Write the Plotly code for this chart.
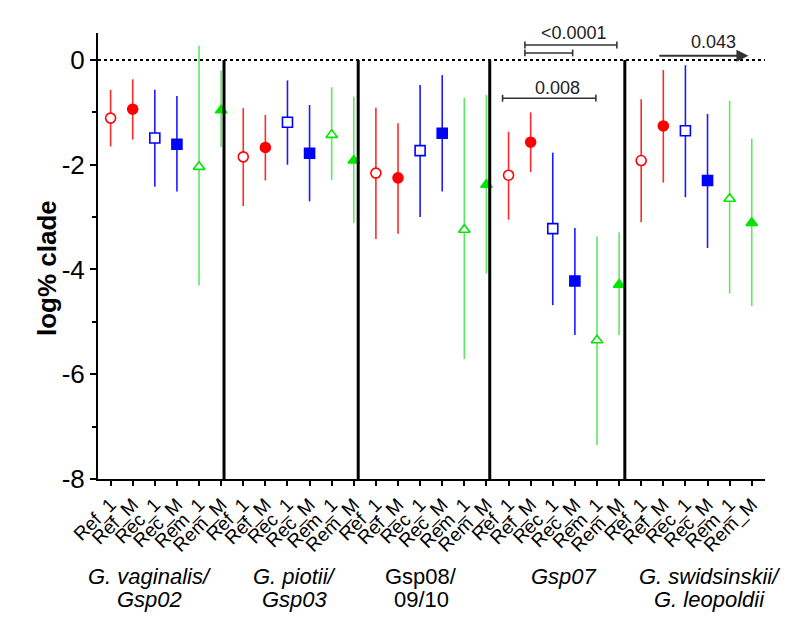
import plotly.graph_objects as go

# ---------------- data ----------------
group_line1 = ["<i>G. vaginalis/</i>", "<i>G. piotii/</i>", "Gsp08/", "<i>Gsp07</i>", "<i>G. swidsinskii/</i>"]
group_line2 = ["<i>Gsp02</i>", "<i>Gsp03</i>", "09/10", "", "<i>G. leopoldii</i>"]
conditions = ["Ref_1", "Ref_M", "Rec_1", "Rec_M", "Rem_1", "Rem_M"]

ref1_mean = [-1.11, -1.85, -2.16, -2.20, -1.92]
ref1_hi = [-0.57, -0.92, -0.91, -1.37, -0.75]
ref1_lo = [-1.65, -2.79, -3.42, -3.05, -3.10]
refM_mean = [-0.94, -1.67, -2.25, -1.57, -1.26]
refM_hi = [-0.37, -1.05, -1.21, -1.00, -0.19]
refM_lo = [-1.52, -2.30, -3.32, -2.14, -2.34]
rec1_mean = [-1.49, -1.19, -1.73, -3.22, -1.35]
rec1_hi = [-0.57, -0.39, -0.48, -1.77, -0.10]
rec1_lo = [-2.42, -2.00, -3.00, -4.68, -2.62]
recM_mean = [-1.61, -1.78, -1.40, -4.22, -2.30]
recM_hi = [-0.69, -0.86, -0.29, -3.21, -1.03]
recM_lo = [-2.51, -2.70, -2.51, -5.25, -3.59]
rem1_mean = [-2.04, -1.43, -3.24, -5.35, -2.65]
rem1_hi = [0.27, -0.52, -0.72, -3.37, -0.78]
rem1_lo = [-4.30, -2.29, -5.71, -7.35, -4.46]
remM_mean = [-0.96, -1.92, -2.38, -4.29, -3.11]
remM_hi = [-0.20, -0.70, -0.67, -3.29, -1.50]
remM_lo = [-1.66, -3.11, -4.08, -5.25, -4.70]

y_ticks = [0, -2, -4, -6, -8]
y_minor = [-1, -3, -5, -7]
separators = [5.13, 11.2, 17.15, 23.26]

# p-value brackets: (x_start, x_end, y)
brackets = [
    (17.73, 21.95, -0.73),
    (18.74, 22.9, 0.286),
    (18.74, 20.9, 0.134),
]
p_labels = ["0.008", "&lt;0.0001", "0.043"]

# --------------- styles ---------------
RED, BLUE = "#ff0000", "#0000ff"
GREEN_M, GREEN_L = "#00e600", "#5ee85e"
styles = [
    dict(symbol="circle", fill="white", col=RED, bar="#ff2a2a", size=10),
    dict(symbol="circle", fill=RED, col=RED, bar="#ff2a2a", size=10),
    dict(symbol="square", fill="white", col=BLUE, bar="#1a1aff", size=10),
    dict(symbol="square", fill=BLUE, col=BLUE, bar="#1a1aff", size=10),
    dict(symbol="triangle-up", fill="white", col=GREEN_M, bar=GREEN_L, size=10),
    dict(symbol="triangle-up", fill=GREEN_M, col=GREEN_M, bar=GREEN_L, size=10),
]
series = [
    (ref1_mean, ref1_hi, ref1_lo),
    (refM_mean, refM_hi, refM_lo),
    (rec1_mean, rec1_hi, rec1_lo),
    (recM_mean, recM_hi, recM_lo),
    (rem1_mean, rem1_hi, rem1_lo),
    (remM_mean, remM_hi, remM_lo),
]

n_cond = len(conditions)
n_grp = len(group_line1)
FONT = "Arial, Liberation Sans, sans-serif"

fig = go.Figure()
for ci, ((mean, hi, lo), st) in enumerate(zip(series, styles)):
    xs = [g * n_cond + ci for g in range(n_grp)]
    fig.add_trace(go.Scatter(
        x=xs, y=mean, mode="markers",
        marker=dict(symbol=st["symbol"], size=st["size"], color=st["fill"],
                    line=dict(color=st["col"], width=1.6)),
        error_y=dict(type="data", symmetric=False,
                     array=[h - m for h, m in zip(hi, mean)],
                     arrayminus=[m - l for m, l in zip(mean, lo)],
                     color=st["bar"], thickness=1.6, width=0),
        showlegend=False, cliponaxis=False,
    ))

tickvals = list(range(n_cond * n_grp))
ticktext = conditions * n_grp

shapes = []
shapes.append(dict(type="line", xref="paper", yref="y", x0=0, x1=1, y0=0, y1=0,
                   line=dict(color="black", width=2, dash="dot")))
for s in separators:
    shapes.append(dict(type="line", xref="x", yref="y", x0=s, x1=s, y0=0, y1=-8,
                       line=dict(color="black", width=3)))

tk = 0.065
for xa, xb, yv in brackets:
    shapes.append(dict(type="line", xref="x", yref="y", x0=xa, x1=xb, y0=yv, y1=yv,
                       line=dict(color="#333333", width=1.6)))
    for xx in (xa, xb):
        shapes.append(dict(type="line", xref="x", yref="y", x0=xx, x1=xx, y0=yv - tk, y1=yv + tk,
                           line=dict(color="#333333", width=1.6)))

pfont = dict(size=18, color="#222222", family=FONT)
annotations = [
    dict(x=20.23, y=-0.53, xref="x", yref="y", text=p_labels[0], showarrow=False, font=pfont, yanchor="middle"),
    dict(x=20.95, y=1.0, xref="x", yref="paper", text=p_labels[1], showarrow=False, font=pfont, yanchor="middle"),
    dict(x=27.29, y=0.35, xref="x", yref="y", text=p_labels[2], showarrow=False, font=pfont, yanchor="middle"),
    dict(x=28.85, y=0.08, ax=24.75, ay=0.08, xref="x", yref="y", axref="x", ayref="y",
         text="", showarrow=True, arrowhead=2, arrowsize=1.2, arrowwidth=2, arrowcolor="#333333"),
    dict(x=-0.0765, y=0.473, xref="paper", yref="paper", text="<b>log% clade</b>", textangle=-90,
         showarrow=False, xanchor="center", yanchor="middle",
         font=dict(size=26, family=FONT, color="black")),
]

group_x = [1.78, 8.33, 14.05, 20.5, 27.1]
gfont = dict(size=22, color="black", family=FONT)
for gx, l1, l2 in zip(group_x, group_line1, group_line2):
    annotations.append(dict(x=gx, y=-0.2175, xref="x", yref="paper", text=l1, showarrow=False,
                            font=gfont, yanchor="middle"))
    if l2:
        annotations.append(dict(x=gx, y=-0.2713, xref="x", yref="paper", text=l2, showarrow=False,
                                font=gfont, yanchor="middle"))

fig.update_layout(
    width=784, height=610,
    margin=dict(l=90, r=27, t=25, b=139),
    paper_bgcolor="white", plot_bgcolor="white",
    font=dict(family=FONT, color="black"),
    shapes=shapes, annotations=annotations,
    xaxis=dict(range=[-0.57, 29.6], tickmode="array", tickvals=tickvals, ticktext=ticktext,
               tickangle=-45, tickfont=dict(size=19, family=FONT, color="black"),
               showline=True, linecolor="black", linewidth=2, ticks="outside", ticklen=5,
               tickwidth=1.5, tickcolor="black", showgrid=False, zeroline=False, automargin=False),
    yaxis=dict(range=[-8, 0.515], tickmode="array", tickvals=y_ticks,
               ticktext=[str(v) if v == 0 else f"-{abs(v)}" for v in y_ticks],
               tickfont=dict(size=26, family=FONT, color="black"),
               showline=True, linecolor="black", linewidth=2, ticks="outside", ticklen=6,
               tickwidth=1.5, tickcolor="black", showgrid=False, zeroline=False, automargin=False,
               minor=dict(tickvals=y_minor, ticks="outside", ticklen=4, tickwidth=1.5, tickcolor="black")),
)

fig.write_html("out.html")
